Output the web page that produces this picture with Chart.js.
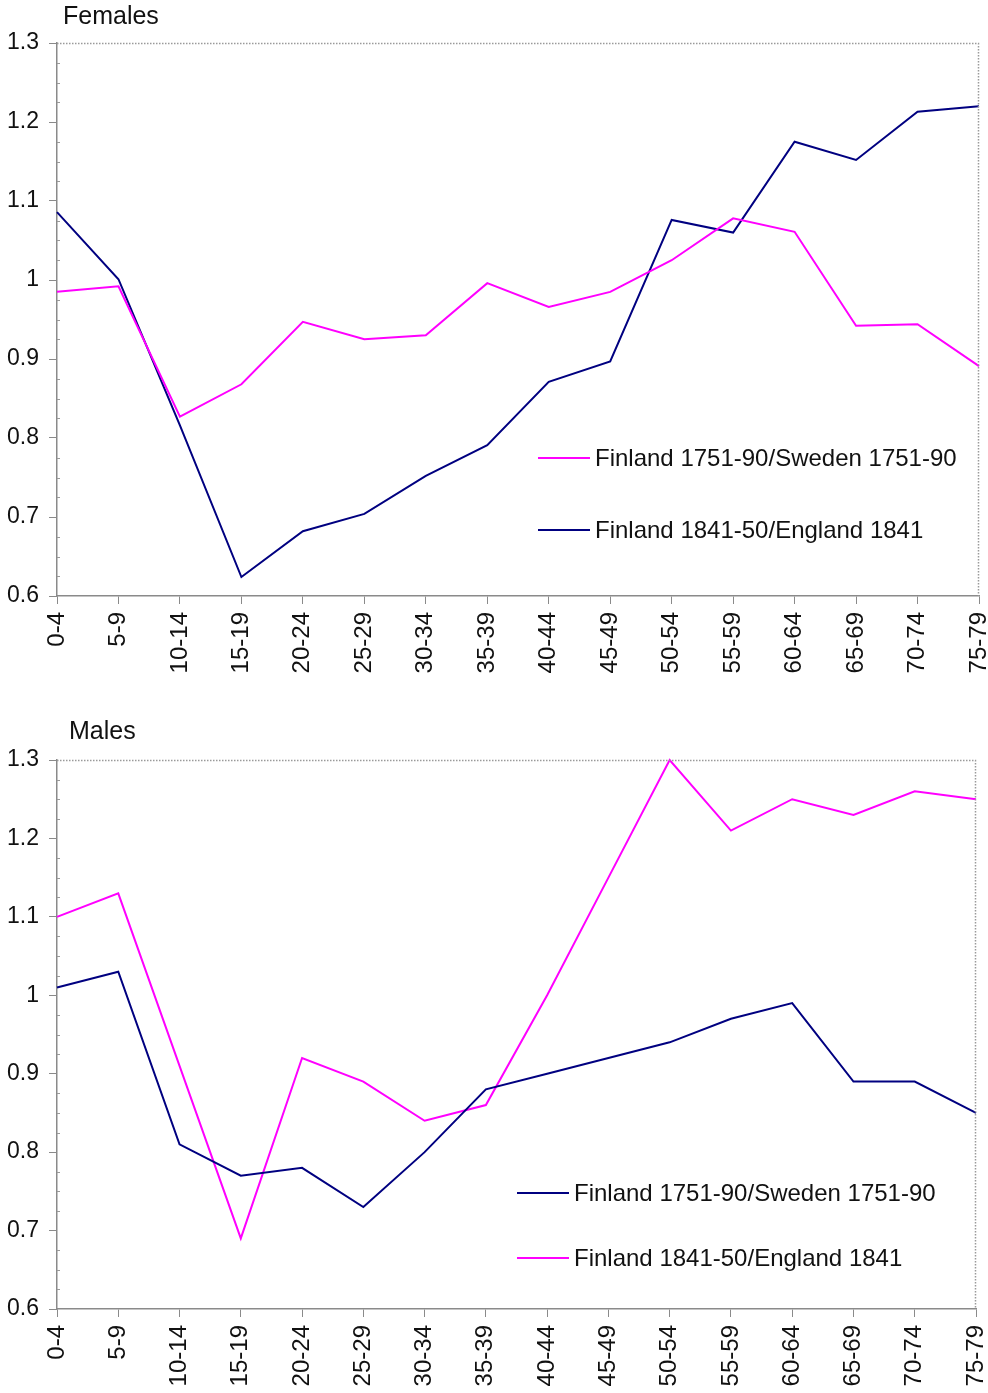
<!DOCTYPE html>
<html>
<head>
<meta charset="utf-8">
<script src="https://cdn.jsdelivr.net/npm/chart.js@4"></script>
<style>
  html, body { margin: 0; padding: 0; background: #fff; }
  body { width: 988px; height: 1393px; position: relative; overflow: hidden; font-family: "Liberation Sans", Arial, sans-serif; }
  .box { position: absolute; left: 0; width: 988px; }
  .ttl { position: absolute; font-size: 25px; color: #111; font-family: "Liberation Sans", Arial, sans-serif; }
</style>
</head>
<body>
<div class="box" id="b1" style="top:0;height:690px;"><canvas id="c1" width="988" height="690"></canvas></div>
<div class="box" id="b2" style="top:700px;height:693px;"><canvas id="c2" width="988" height="693"></canvas></div>
<div class="ttl" style="left:63px;top:1px;">Females</div>
<div class="ttl" style="left:69px;top:716px;">Males</div>
<script>
// ---- data ----
const ageGroups = ["0-4","5-9","10-14","15-19","20-24","25-29","30-34","35-39","40-44","45-49","50-54","55-59","60-64","65-69","70-74","75-79"];
const yTicks = [0.6, 0.7, 0.8, 0.9, 1.0, 1.1, 1.2, 1.3];

const labelSweden = "Finland 1751-90/Sweden 1751-90";
const labelEngland = "Finland 1841-50/England 1841";

const femalesSweden  = [0.985, 0.992, 0.827, 0.868, 0.947, 0.925, 0.930, 0.996, 0.966, 0.985, 1.025, 1.078, 1.061, 0.942, 0.944, 0.891];
const femalesEngland = [1.086, 1.001, 0.816, 0.624, 0.682, 0.704, 0.752, 0.791, 0.871, 0.897, 1.076, 1.060, 1.175, 1.152, 1.213, 1.220];

const malesSweden  = [1.01, 1.03, 0.81, 0.77, 0.78, 0.73, 0.80, 0.88, 0.90, 0.92, 0.94, 0.97, 0.99, 0.89, 0.89, 0.85];
const malesEngland = [1.10, 1.13, 0.91, 0.69, 0.92, 0.89, 0.84, 0.86, 1.00, 1.15, 1.30, 1.21, 1.25, 1.23, 1.26, 1.25];

const MAGENTA = "#FF00FF";
const NAVY = "#000080";
const FONT = "'Liberation Sans', Arial, sans-serif";

// plugin: dotted top/right border, minor ticks, in-plot legend
const framePlugin = {
  id: "frame",
  afterDraw(chart, args, opts) {
    const ctx = chart.ctx;
    const a = chart.chartArea;
    ctx.save();
    ctx.strokeStyle = "#9a9a9a";
    ctx.lineWidth = 1.5;
    ctx.setLineDash([1.5, 1.5]);
    ctx.beginPath();
    ctx.moveTo(a.left, a.top + 0.5);
    ctx.lineTo(a.right - 0.5, a.top + 0.5);
    ctx.lineTo(a.right - 0.5, a.bottom);
    ctx.stroke();
    ctx.setLineDash([]);
    const ys = chart.scales.y;
    ctx.strokeStyle = "#9a9a9a";
    ctx.lineWidth = 1;
    for (let i = 0; i <= 28; i++) {
      if (i % 4 === 0) continue;
      const v = 0.6 + i * 0.025;
      const py = Math.round(ys.getPixelForValue(v)) + 0.5;
      ctx.beginPath();
      ctx.moveTo(a.left, py);
      ctx.lineTo(a.left + 3, py);
      ctx.stroke();
    }
    const lg = opts.legend;
    ctx.font = "24px " + FONT;
    ctx.textBaseline = "middle";
    ctx.textAlign = "left";
    chart.data.datasets.forEach((ds, i) => {
      const y = lg.y + i * lg.spacing;
      ctx.strokeStyle = ds.borderColor;
      ctx.lineWidth = 2;
      ctx.beginPath();
      ctx.moveTo(lg.x, y);
      ctx.lineTo(lg.x + lg.lineLen, y);
      ctx.stroke();
      ctx.fillStyle = "#111";
      ctx.fillText(ds.label, lg.x + lg.lineLen + 5, y + 1);
    });
    ctx.restore();
  }
};

function makeChart(id, datasets, padding, xHeight, legend) {
  return new Chart(document.getElementById(id), {
    type: "line",
    data: { labels: ageGroups, datasets },
    options: {
      responsive: false,
      animation: false,
      layout: { padding },
      plugins: { legend: { display: false }, title: { display: false }, tooltip: { enabled: false }, frame: { legend } },
      elements: { point: { radius: 0 }, line: { tension: 0, borderWidth: 2 } },
      scales: {
        x: {
          offset: false,
          grid: { drawOnChartArea: false, color: "#8a8a8a", tickLength: 8 },
          border: { color: "#8a8a8a", width: 1.5 },
          ticks: { color: "#111", font: { family: FONT, size: 24 }, minRotation: 90, maxRotation: 90, padding: 8, autoSkip: false },
          afterFit(s) { s.height = xHeight; s.paddingLeft = 0; s.paddingRight = 0; }
        },
        y: {
          min: 0.6, max: 1.3,
          afterBuildTicks(s) { s.ticks = yTicks.map(v => ({ value: v })); },
          grid: { drawOnChartArea: false, color: "#8a8a8a", tickLength: 8 },
          border: { color: "#8a8a8a", width: 1.5 },
          ticks: {
            color: "#111", font: { family: FONT, size: 23 }, padding: 10,
            callback: v => String(Math.round(v * 10) / 10)
          },
          afterFit(s) { s.width = 57; s.paddingTop = 0; s.paddingBottom = 0; }
        }
      }
    },
    plugins: [framePlugin]
  });
}

makeChart("c1", [
  { label: labelSweden, data: femalesSweden, borderColor: MAGENTA, backgroundColor: MAGENTA, clip: false },
  { label: labelEngland, data: femalesEngland, borderColor: NAVY, backgroundColor: NAVY, clip: false }
], { top: 43, right: 9, left: 0, bottom: 0 }, 94, { x: 538, y: 458, lineLen: 52, spacing: 72 });

makeChart("c2", [
  { label: labelSweden, data: malesSweden, borderColor: NAVY, backgroundColor: NAVY, clip: false },
  { label: labelEngland, data: malesEngland, borderColor: MAGENTA, backgroundColor: MAGENTA, clip: false }
], { top: 60, right: 12, left: 0, bottom: 0 }, 84, { x: 517, y: 493, lineLen: 52, spacing: 65 });
</script>
</body>
</html>
